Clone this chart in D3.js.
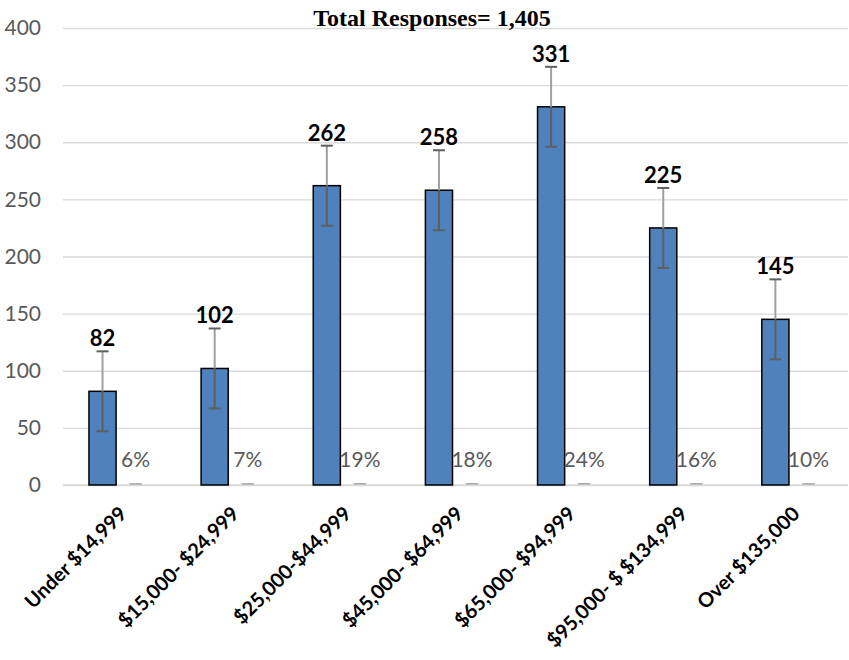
<!DOCTYPE html>
<html lang="en">
<head>
    <meta charset="UTF-8">
    <title>Total Responses</title>
    <script src="https://d3js.org/d3.v7.min.js"></script>
    <style>
        body { margin: 0; background: #fff; }
    </style>
</head>
<body>
    <svg width="849" height="660"></svg>
    <script>
        // chart data
        const categories = ["Under $14,999", "$15,000- $24,999", "$25,000-$44,999", "$45,000- $64,999",
                            "$65,000- $94,999", "$95,000- $ $134,999", "Over $135,000"];
        const counts = [82, 102, 262, 258, 331, 225, 145];
        const percents = [0.06, 0.07, 0.19, 0.18, 0.24, 0.16, 0.10];
        const errors = [35, 35, 35, 35, 35, 35, 35];
        const yTicks = [0, 50, 100, 150, 200, 250, 300, 350, 400];
        const title = "Total Responses= 1,405";

        const data = categories.map((c, i) => ({cat: c, n: counts[i], pct: percents[i], err: errors[i]}));

        const svg = d3.select("svg");
        const margin = {left: 63, right: 848, top: 28, bottom: 485};

        const x = d3.scaleBand().domain(categories).range([margin.left, margin.right]);
        const xSub = d3.scaleBand().domain(["n", "pct"]).range([0, x.bandwidth()])
            .paddingInner(0.18).paddingOuter(0.785);
        const y = d3.scaleLinear().domain([0, 400]).range([margin.bottom, margin.top]);

        const font = "Lato, 'Open Sans', sans-serif";

        // gridlines + y labels
        const yAxis = svg.append("g")
            .attr("transform", "translate(" + margin.left + ",0)")
            .call(d3.axisLeft(y).tickValues(yTicks).tickSize(-(margin.right - margin.left)).tickPadding(22));
        yAxis.select(".domain").remove();
        yAxis.selectAll(".tick line").attr("stroke", "#d9d9d9").attr("stroke-width", 1.3);
        yAxis.selectAll(".tick text")
            .attr("fill", "#595959")
            .style("font-family", font)
            .style("font-size", "21px");

        // x labels
        const xAxis = svg.append("g")
            .attr("transform", "translate(0," + margin.bottom + ")")
            .call(d3.axisBottom(x).tickSize(0).tickPadding(0));
        xAxis.select(".domain").remove();
        xAxis.selectAll(".tick text")
            .attr("fill", "#000")
            .style("font-family", font)
            .style("font-size", "20px")
            .style("font-weight", "bold")
            .attr("text-anchor", "end")
            .attr("dy", "0")
            .attr("y", 0)
            .attr("transform", "translate(9,30) rotate(-45)");

        // baseline
        svg.append("line")
            .attr("x1", margin.left).attr("x2", margin.right)
            .attr("y1", y(0)).attr("y2", y(0))
            .attr("stroke", "#d9d9d9").attr("stroke-width", 1.5);

        const groups = svg.append("g").selectAll("g")
            .data(data)
            .enter().append("g")
            .attr("transform", d => "translate(" + x(d.cat) + ",0)");

        // count bars
        groups.append("rect")
            .attr("x", xSub("n"))
            .attr("y", d => y(d.n))
            .attr("width", xSub.bandwidth())
            .attr("height", d => y(0) - y(d.n))
            .attr("fill", "#4f81bd")
            .attr("stroke", "#000")
            .attr("stroke-width", 1.5);

        // percent series (near-zero values)
        groups.append("line")
            .attr("x1", xSub("pct") + xSub.bandwidth() * 0.27)
            .attr("x2", xSub("pct") + xSub.bandwidth() * 0.73)
            .attr("y1", d => y(d.pct) - 1)
            .attr("y2", d => y(d.pct) - 1)
            .attr("stroke", "#a6a6a6")
            .attr("stroke-width", 1.5);

        // error bars
        const cx = xSub("n") + xSub.bandwidth() / 2;
        groups.append("line")
            .attr("x1", cx).attr("x2", cx)
            .attr("y1", d => y(d.n + d.err))
            .attr("y2", d => y(d.n))
            .attr("stroke", "#a0a0a0").attr("stroke-width", 2);
        groups.append("line")
            .attr("x1", cx).attr("x2", cx)
            .attr("y1", d => y(d.n))
            .attr("y2", d => y(d.n - d.err))
            .attr("stroke", "#5f5f5f").attr("stroke-width", 2);
        groups.selectAll(".cap")
            .data(d => [d.n + d.err, d.n - d.err])
            .enter().append("line")
            .attr("class", "cap")
            .attr("x1", cx - 6).attr("x2", cx + 6)
            .attr("y1", v => y(v)).attr("y2", v => y(v))
            .attr("stroke", "#5f5f5f").attr("stroke-width", 2);

        // count labels
        groups.append("text")
            .attr("x", cx)
            .attr("y", d => y(d.n + d.err) - 5)
            .attr("text-anchor", "middle")
            .style("font-family", font)
            .style("font-size", "22px")
            .style("font-weight", "bold")
            .attr("fill", "#000")
            .text(d => d.n);

        // percent labels
        groups.append("text")
            .attr("x", xSub("pct") + xSub.bandwidth() / 2)
            .attr("y", 467)
            .attr("text-anchor", "middle")
            .style("font-family", font)
            .style("font-size", "21px")
            .attr("fill", "#595959")
            .text(d => d3.format(".0%")(d.pct));

        // title
        svg.append("text")
            .attr("x", 432)
            .attr("y", 26)
            .attr("text-anchor", "middle")
            .style("font-family", "'Liberation Serif', 'Times New Roman', serif")
            .style("font-size", "24px")
            .style("font-weight", "bold")
            .text(title);
    </script>
</body>
</html>
